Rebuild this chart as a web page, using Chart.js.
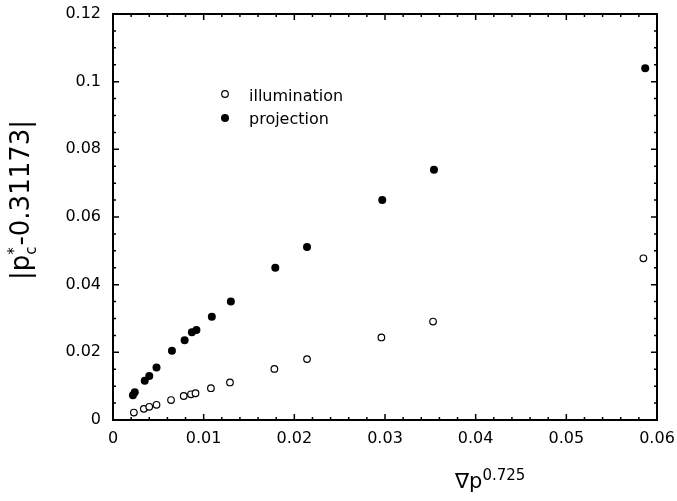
<!DOCTYPE html>
<html>
<head>
<meta charset="utf-8">
<script src="https://cdn.jsdelivr.net/npm/chart.js@4/dist/chart.umd.min.js"></script>
<style>
  body { margin: 0; background: #fff; }
  canvas { display: block; }
</style>
</head>
<body>
<canvas id="chart" width="677" height="501"></canvas>
<script>
// values
const illumX = [0.0023, 0.0034, 0.0040, 0.0048, 0.0064, 0.0078, 0.0086, 0.0091, 0.0108, 0.0129, 0.0178, 0.0214, 0.0296, 0.0353, 0.0585];
const illumY = [0.0022, 0.0033, 0.0039, 0.0045, 0.0059, 0.0071, 0.0076, 0.0079, 0.0094, 0.0111, 0.0151, 0.0180, 0.0244, 0.0291, 0.0478];

const projX = [0.0022, 0.0024, 0.0035, 0.0040, 0.0048, 0.0065, 0.0079, 0.0087, 0.0092, 0.0109, 0.0130, 0.0179, 0.0214, 0.0297, 0.0354, 0.0587];
const projY = [0.0073, 0.0082, 0.0116, 0.0130, 0.0155, 0.0205, 0.0236, 0.0259, 0.0266, 0.0305, 0.0350, 0.0450, 0.0511, 0.0650, 0.0740, 0.1040];

const xTicks = [0, 0.01, 0.02, 0.03, 0.04, 0.05, 0.06];
const xTickLabels = ['0', '0.01', '0.02', '0.03', '0.04', '0.05', '0.06'];
const yTicks = [0, 0.02, 0.04, 0.06, 0.08, 0.1, 0.12];
const yTickLabels = ['0', '0.02', '0.04', '0.06', '0.08', '0.1', '0.12'];

const seriesNames = ['illumination', 'projection'];

const FONT = '"DejaVu Sans", sans-serif';

function toPoints(xs, ys) {
    return xs.map((x, i) => ({ x: x, y: ys[i] }));
}

// frame with inward ticks on all four sides
const frameTicks = {
    id: 'frameTicks',
    afterDraw(chart) {
        const { ctx, chartArea: a, scales } = chart;
        const xs = scales.x, ys = scales.y;
        ctx.save();
        ctx.strokeStyle = '#000';
        ctx.lineWidth = 1.5;
        for (let v = 0; v <= 0.06 + 1e-9; v += 0.002) {
            const px = xs.getPixelForValue(v);
            const len = Math.abs(v / 0.01 - Math.round(v / 0.01)) < 1e-6 ? 6 : 3;
            ctx.beginPath();
            ctx.moveTo(px, a.bottom); ctx.lineTo(px, a.bottom - len);
            ctx.moveTo(px, a.top); ctx.lineTo(px, a.top + len);
            ctx.stroke();
        }
        for (let v = 0; v <= 0.12 + 1e-9; v += 0.005) {
            const py = ys.getPixelForValue(v);
            const len = Math.abs(v / 0.02 - Math.round(v / 0.02)) < 1e-6 ? 6 : 3;
            ctx.beginPath();
            ctx.moveTo(a.left, py); ctx.lineTo(a.left + len, py);
            ctx.moveTo(a.right, py); ctx.lineTo(a.right - len, py);
            ctx.stroke();
        }
        ctx.lineWidth = 2;
        ctx.strokeRect(a.left, a.top, a.right - a.left, a.bottom - a.top);
        ctx.restore();
    }
};

// legend inside the plot and the two axis titles
const labelsPlugin = {
    id: 'labelsPlugin',
    afterDraw(chart) {
        const ctx = chart.ctx;
        ctx.save();
        ctx.fillStyle = '#000';
        ctx.strokeStyle = '#000';

        // legend
        ctx.font = '16px ' + FONT;
        ctx.textBaseline = 'alphabetic';
        ctx.textAlign = 'left';
        ctx.lineWidth = 1.2;
        ctx.beginPath();
        ctx.arc(225, 94, 3.3, 0, Math.PI * 2);
        ctx.stroke();
        ctx.fillText(seriesNames[0], 249, 101);
        ctx.beginPath();
        ctx.arc(225, 118, 4, 0, Math.PI * 2);
        ctx.fill();
        ctx.fillText(seriesNames[1], 249, 124);

        // x title: ∇p^0.725
        ctx.font = '21px ' + FONT;
        let x = 455;
        ctx.fillText('\u2207p', x, 488);
        x += ctx.measureText('\u2207p').width;
        ctx.font = '15px ' + FONT;
        ctx.fillText('0.725', x, 480);

        // y title: |pc*-0.31173|
        ctx.translate(29, 200);
        ctx.rotate(-Math.PI / 2);
        const big = '26px ' + FONT, small = '15px ' + FONT;
        ctx.font = big;
        const w1 = ctx.measureText('|p').width;
        const w3 = ctx.measureText('-0.31173|').width;
        ctx.font = small;
        const w2 = Math.max(ctx.measureText('c').width, ctx.measureText('*').width) + 1;
        let tx = -(w1 + w2 + w3) / 2;
        ctx.font = big;
        ctx.fillText('|p', tx, 0);
        tx += w1;
        ctx.font = small;
        ctx.fillText('c', tx, 7);
        ctx.fillText('*', tx, -10);
        tx += w2;
        ctx.font = big;
        ctx.fillText('-0.31173|', tx, 0);
        ctx.restore();
    }
};

new Chart(document.getElementById('chart'), {
    type: 'scatter',
    data: {
        datasets: [
            {
                label: seriesNames[0],
                data: toPoints(illumX, illumY),
                pointStyle: 'circle',
                pointRadius: 3.3,
                pointBackgroundColor: '#fff',
                pointBorderColor: '#000',
                pointBorderWidth: 1.2
            },
            {
                label: seriesNames[1],
                data: toPoints(projX, projY),
                pointStyle: 'circle',
                pointRadius: 4,
                pointBackgroundColor: '#000',
                pointBorderColor: '#000',
                pointBorderWidth: 0
            }
        ]
    },
    options: {
        responsive: false,
        animation: false,
        layout: { padding: { left: 0, right: 20, top: 14, bottom: 0 } },
        plugins: {
            legend: { display: false },
            tooltip: { enabled: false }
        },
        scales: {
            x: {
                type: 'linear',
                min: 0,
                max: 0.06,
                afterBuildTicks: s => { s.ticks = xTicks.map(v => ({ value: v })); },
                afterFit: s => { s.height = 81; s.paddingLeft = 0; s.paddingRight = 0; },
                grid: { display: false, drawTicks: false },
                border: { display: false },
                ticks: {
                    callback: (v, i) => xTickLabels[i],
                    color: '#000',
                    font: { family: FONT, size: 16 },
                    padding: 9,
                    maxRotation: 0
                }
            },
            y: {
                type: 'linear',
                min: 0,
                max: 0.12,
                afterBuildTicks: s => { s.ticks = yTicks.map(v => ({ value: v })); },
                afterFit: s => { s.width = 113; s.paddingTop = 0; s.paddingBottom = 0; },
                grid: { display: false, drawTicks: false },
                border: { display: false },
                ticks: {
                    callback: (v, i) => yTickLabels[i],
                    color: '#000',
                    font: { family: FONT, size: 16 },
                    padding: 12
                }
            }
        }
    },
    plugins: [frameTicks, labelsPlugin]
});
</script>
</body>
</html>
